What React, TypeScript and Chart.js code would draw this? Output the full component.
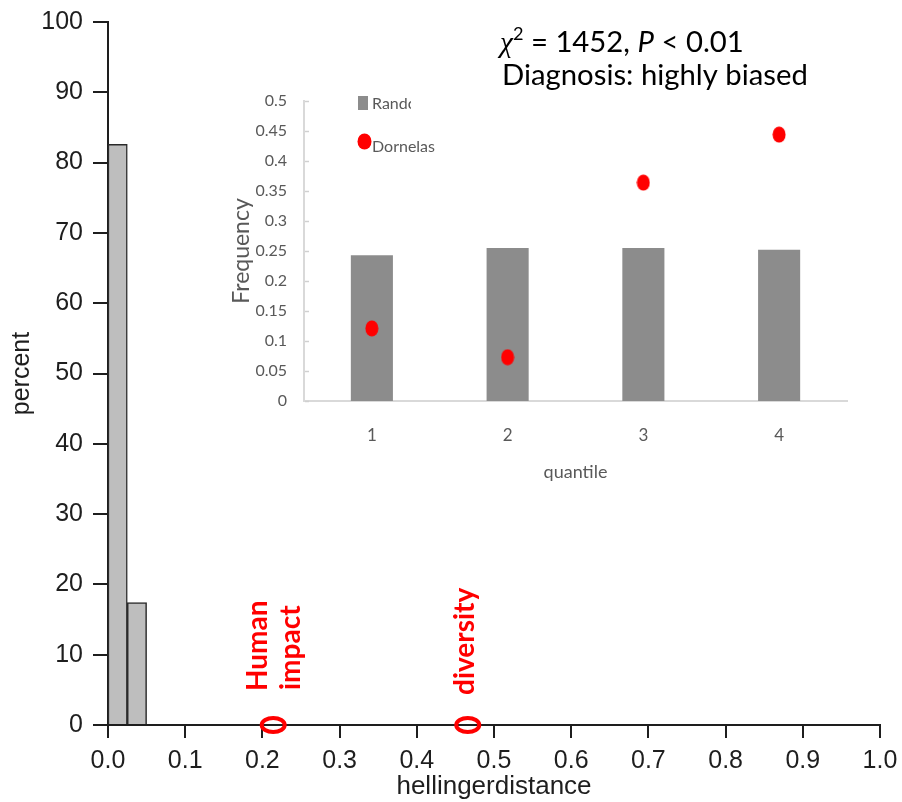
import React, { useEffect, useRef } from 'react';
import { Chart, registerables } from 'chart.js';

Chart.register(...registerables);

// ---------- data ----------
const binEdges = [0, 0.025, 0.05];
const percentValues = [82.6, 17.4];
const markerValues = [0.214, 0.466];
const markerTexts = [['Human', 'impact'], ['diversity']];
const xTitle = 'hellingerdistance';
const yTitle = 'percent';

const quantileLabels = ['1', '2', '3', '4'];
const randomFreq = [0.243, 0.255, 0.255, 0.252];
const dornelasFreq = [0.121, 0.073, 0.364, 0.444];
const legendLabels = ['Random', 'Dornelas'];
const insetXTitle = 'quantile';
const insetYTitle = 'Frequency';

const chiValue = '1452';
const pValue = '0.01';
const diagnosisText = 'Diagnosis: highly biased';

const RED = '#ff0000';
const INSET_TEXT = '#595959';
const AXIS_DARK = '#1e1e1e';

function makeEllipseCanvas(w: number, h: number, color: string) {
  const c = document.createElement('canvas');
  c.width = w;
  c.height = h;
  const g = c.getContext('2d')!;
  g.fillStyle = color;
  g.beginPath();
  g.ellipse(w / 2, h / 2, w / 2 - 0.5, h / 2 - 0.5, 0, 0, Math.PI * 2);
  g.fill();
  return c;
}

function fixSize(dim: 'width' | 'height', value: number) {
  return (s: any) => {
    s[dim] = value;
    s.paddingTop = 0;
    s.paddingBottom = 0;
    s.paddingLeft = 0;
    s.paddingRight = 0;
  };
}

const mainPlugin = {
  id: 'mainAnnot',
  afterDraw(chart: any) {
    const ctx = chart.ctx as CanvasRenderingContext2D;
    const xs = chart.scales.x;
    const ys = chart.scales.y;
    const py = ys.getPixelForValue(0);
    ctx.save();
    markerValues.forEach((v, i) => {
      const px = xs.getPixelForValue(v);
      ctx.strokeStyle = RED;
      ctx.lineWidth = 4;
      ctx.beginPath();
      ctx.ellipse(px, py, 11.5, 7, 0, 0, Math.PI * 2);
      ctx.stroke();
      const lines = markerTexts[i];
      ctx.fillStyle = RED;
      ctx.font = "bold 28px Lato, 'Noto Sans', sans-serif";
      ctx.textAlign = 'left';
      ctx.textBaseline = 'alphabetic';
      lines.forEach((t, j) => {
        const bx = lines.length > 1 ? px - 6 + j * 33 : px + 6;
        const by = py - (lines.length > 1 ? 34 + j : 30);
        ctx.save();
        ctx.translate(bx, by);
        ctx.rotate(-Math.PI / 2);
        ctx.fillText(t, 0, 0);
        ctx.restore();
      });
    });
    const baseFont = "Lato, 'Noto Sans', sans-serif";
    ctx.fillStyle = '#000';
    ctx.textBaseline = 'alphabetic';
    ctx.textAlign = 'left';
    ctx.font = `28px ${baseFont}`;
    const w0 = ctx.measureText(diagnosisText).width;
    const size = 28 * 306 / w0;
    ctx.font = `${size}px ${baseFont}`;
    ctx.fillText(diagnosisText, 502, 85);
    let x = 500;
    const y1 = 52;
    const seg = (text: string, font: string, dy = 0) => {
      ctx.font = font;
      ctx.fillText(text, x, y1 + dy);
      x += ctx.measureText(text).width;
    };
    seg('\u03c7', `italic ${size}px 'Liberation Serif', serif`);
    seg('2', `${size * 0.62}px ${baseFont}`, -size * 0.4);
    seg(' = ' + chiValue + ', ', `${size}px ${baseFont}`);
    seg('P', `italic ${size}px ${baseFont}`);
    seg(' < ' + pValue, `${size}px ${baseFont}`);
    ctx.restore();
  },
};

const insetPlugin = {
  id: 'insetExtras',
  afterDraw(chart: any) {
    const ctx = chart.ctx as CanvasRenderingContext2D;
    const ys = chart.scales.y;
    const area = chart.chartArea;
    ctx.save();
    ctx.strokeStyle = '#d0d0d0';
    ctx.lineWidth = 1.5;
    ys.ticks.forEach((t: any) => {
      const yy = Math.round(ys.getPixelForValue(t.value)) + 0.5;
      ctx.beginPath();
      ctx.moveTo(area.left + 1, yy);
      ctx.lineTo(area.left + 5, yy);
      ctx.stroke();
    });
    const lx = area.left + 54;
    const row1 = area.top + 2;
    const row2 = area.top + 44;
    ctx.fillStyle = '#8c8c8c';
    ctx.fillRect(lx, row1 - 7, 10, 14);
    ctx.fillStyle = INSET_TEXT;
    ctx.font = "16px Lato, 'Noto Sans', sans-serif";
    ctx.textBaseline = 'middle';
    ctx.textAlign = 'left';
    ctx.save();
    ctx.beginPath();
    ctx.rect(lx + 13, row1 - 12, 40, 24);
    ctx.clip();
    ctx.fillText(legendLabels[0], lx + 14, row1 + 1);
    ctx.restore();
    const dot = makeEllipseCanvas(15, 17, RED);
    ctx.drawImage(dot, lx - 1, row2 - 12);
    ctx.fillStyle = INSET_TEXT;
    ctx.fillText(legendLabels[1], lx + 14, row2 + 2);
    ctx.restore();
  },
};

export default function App() {
  const mainRef = useRef<HTMLCanvasElement>(null);
  const insetRef = useRef<HTMLCanvasElement>(null);

  useEffect(() => {
    const axisFont = { family: "'Liberation Sans', Arial, sans-serif", size: 25 };
    const histData = percentValues.map((v, i) => ({
      x: (binEdges[i] + binEdges[i + 1]) / 2,
      y: v,
    }));
    const main = new Chart(mainRef.current!, {
      type: 'bar',
      data: {
        datasets: [
          {
            data: histData as any,
            backgroundColor: '#bebebe',
            borderColor: '#2a2a2a',
            borderWidth: 1.5,
            barPercentage: 1,
            categoryPercentage: 1,
            borderSkipped: 'bottom',
          },
        ],
      },
      options: {
        animation: false,
        responsive: false,
        events: [],
        layout: { padding: { top: 22, right: 22, left: 0, bottom: 0 } },
        plugins: { legend: { display: false }, tooltip: { enabled: false } },
        scales: {
          x: {
            type: 'linear',
            min: 0,
            max: 1,
            offset: false,
            grid: {
              offset: false,
              drawOnChartArea: false,
              drawTicks: true,
              tickLength: 13,
              color: AXIS_DARK,
              lineWidth: 2,
            },
            border: { color: AXIS_DARK, width: 2 },
            ticks: {
              stepSize: 0.1,
              autoSkip: false,
              maxRotation: 0,
              padding: 8,
              color: AXIS_DARK,
              font: axisFont,
              callback: (v: any) => Number(v).toFixed(1),
            },
            title: {
              display: true,
              text: xTitle,
              color: AXIS_DARK,
              font: { family: axisFont.family, size: 26 },
              padding: { top: 0, bottom: 0 },
            },
            afterFit: fixSize('height', 77),
          } as any,
          y: {
            min: 0,
            max: 100,
            grid: {
              drawOnChartArea: false,
              drawTicks: true,
              tickLength: 15,
              color: AXIS_DARK,
              lineWidth: 2,
            },
            border: { color: AXIS_DARK, width: 2 },
            ticks: {
              stepSize: 10,
              padding: 10,
              color: AXIS_DARK,
              font: axisFont,
            },
            title: {
              display: true,
              text: yTitle,
              color: AXIS_DARK,
              font: { family: axisFont.family, size: 25 },
              padding: { top: 7, bottom: 0 },
            },
            afterFit: fixSize('width', 108),
          } as any,
        },
      },
      plugins: [mainPlugin],
    });

    const insetFont = { family: "Lato, 'Noto Sans', sans-serif", size: 16 };
    const dotCanvas = makeEllipseCanvas(14, 17, RED);
    const inset = new Chart(insetRef.current!, {
      type: 'bar',
      data: {
        labels: quantileLabels,
        datasets: [
          {
            type: 'line',
            label: legendLabels[1],
            data: dornelasFreq,
            showLine: false,
            pointStyle: dotCanvas as any,
            order: 0,
          } as any,
          {
            type: 'bar',
            label: legendLabels[0],
            data: randomFreq,
            backgroundColor: '#8c8c8c',
            barPercentage: 0.31,
            categoryPercentage: 1,
            order: 1,
          },
        ],
      },
      options: {
        animation: false,
        responsive: false,
        events: [],
        layout: { padding: { top: 21, right: 13, left: 0, bottom: 0 } },
        plugins: { legend: { display: false }, tooltip: { enabled: false } },
        scales: {
          x: {
            grid: { display: false, drawTicks: false },
            border: { color: '#d9d9d9', width: 2 },
            ticks: { color: INSET_TEXT, font: { family: insetFont.family, size: 17 }, padding: 24 },
            title: {
              display: true,
              text: insetXTitle,
              color: INSET_TEXT,
              font: { family: insetFont.family, size: 18 },
              padding: { top: 0, bottom: 17 },
            },
            afterFit: fixSize('height', 99),
          } as any,
          y: {
            min: 0,
            max: 0.5,
            grid: { display: false, drawTicks: false },
            border: { color: '#d9d9d9', width: 2 },
            ticks: {
              stepSize: 0.05,
              color: INSET_TEXT,
              font: insetFont,
              padding: 17,
              callback: (v: any) => String(parseFloat(Number(v).toFixed(2))),
            },
            title: {
              display: true,
              text: insetYTitle,
              color: INSET_TEXT,
              font: { family: insetFont.family, size: 23 },
              padding: { top: 8, bottom: 0 },
            },
            afterFit: fixSize('width', 84),
          } as any,
        },
      },
      plugins: [insetPlugin],
    });

    return () => {
      main.destroy();
      inset.destroy();
    };
  }, []);

  return (
    <div style={{ position: 'absolute', left: 0, top: 0, width: 902, height: 802, background: '#fff' }}>
      <canvas ref={mainRef} width={902} height={802} style={{ position: 'absolute', left: 0, top: 0 }} />
      <canvas ref={insetRef} width={640} height={420} style={{ position: 'absolute', left: 220, top: 80 }} />
    </div>
  );
}
